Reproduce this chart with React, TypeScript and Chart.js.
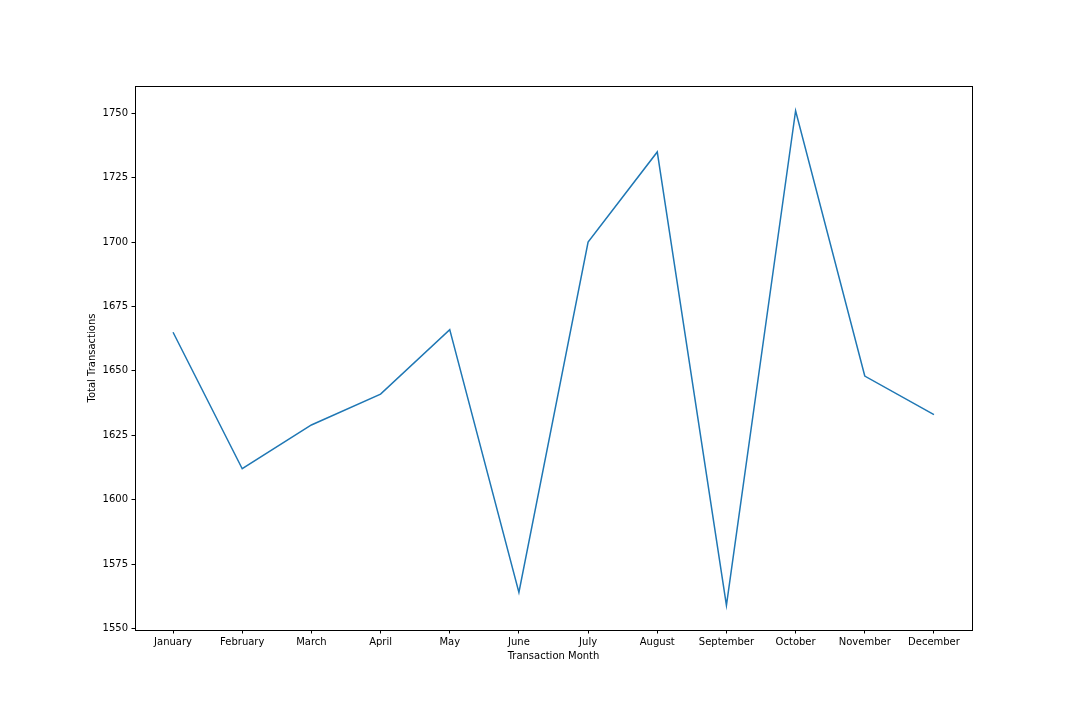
import React, { useEffect, useRef } from "react";
import { Chart, registerables } from "chart.js";

Chart.register(...registerables);

const months = [
  "January", "February", "March", "April", "May", "June",
  "July", "August", "September", "October", "November", "December",
];
const totalTransactions = [1665, 1612, 1629, 1641, 1666, 1564, 1700, 1735, 1559, 1751, 1648, 1633];
const yTicks = [1550, 1575, 1600, 1625, 1650, 1675, 1700, 1725, 1750];
const xTitle = "Transaction Month";
const yTitle = "Total Transactions";

const framePlugin = {
  id: "frame",
  afterDatasetsDraw(chart: any) {
    const { ctx, chartArea } = chart;
    ctx.save();
    ctx.strokeStyle = "#000000";
    ctx.lineWidth = 1;
    ctx.strokeRect(
      Math.round(chartArea.left) + 0.5,
      Math.round(chartArea.top) + 0.5,
      Math.round(chartArea.right - chartArea.left),
      Math.round(chartArea.bottom - chartArea.top)
    );
    ctx.restore();
  },
};

export default function App() {
  const ref = useRef<HTMLCanvasElement | null>(null);

  useEffect(() => {
    if (!ref.current) return;
    const n = months.length;
    const pts = totalTransactions.map((v, i) => ({ x: i, y: v }));
    const minV = Math.min(...totalTransactions);
    const maxV = Math.max(...totalTransactions);
    const m = (maxV - minV) * 0.05;
    const font = { family: "DejaVu Sans", size: 10 };
    const chart = new Chart(ref.current, {
      type: "line",
      data: {
        datasets: [
          {
            data: pts,
            borderColor: "#1f77b4",
            borderWidth: 1.5,
            pointRadius: 0,
            fill: false,
            tension: 0,
          },
        ],
      },
      options: {
        animation: false,
        responsive: false,
        devicePixelRatio: 1,
        layout: { padding: { top: 86, right: 108, left: 0, bottom: 0 } },
        plugins: { legend: { display: false }, tooltip: { enabled: false } },
        scales: {
          x: {
            type: "linear",
            min: -0.55,
            max: n - 1 + 0.55,
            border: { display: false },
            grid: {
              display: true,
              drawOnChartArea: false,
              drawTicks: true,
              tickLength: 3.5,
              tickColor: "#000000",
              lineWidth: 1,
            },
            ticks: {
              autoSkip: false,
              maxRotation: 0,
              padding: 2.5,
              color: "#000000",
              font,
              callback: (v: any) => months[v as number] ?? "",
            },
            afterBuildTicks: (scale: any) => {
              scale.ticks = months.map((_, i) => ({ value: i }));
            },
            afterFit: (scale: any) => {
              scale.height = 90;
            },
            title: {
              display: true,
              text: xTitle,
              color: "#000000",
              font,
              padding: { top: 0, bottom: 58 },
            },
          },
          y: {
            type: "linear",
            min: minV - m,
            max: maxV + m,
            border: { display: false },
            grid: {
              display: true,
              drawOnChartArea: false,
              drawTicks: true,
              tickLength: 3.5,
              tickColor: "#000000",
              lineWidth: 1,
            },
            ticks: {
              padding: 3.5,
              color: "#000000",
              font,
              callback: (v: any) => String(v),
            },
            afterBuildTicks: (scale: any) => {
              scale.ticks = yTicks.map((v) => ({ value: v }));
            },
            afterFit: (scale: any) => {
              scale.width = 135;
            },
            title: {
              display: true,
              text: yTitle,
              color: "#000000",
              font,
              padding: { top: 86, bottom: 0 },
            },
          },
        },
      },
      plugins: [framePlugin],
    } as any);
    return () => chart.destroy();
  }, []);

  return (
    <div style={{ position: "absolute", left: 0, top: 0, width: 1080, height: 720, background: "#ffffff" }}>
      <canvas ref={ref} width={1080} height={720} style={{ width: 1080, height: 720 }} />
    </div>
  );
}
